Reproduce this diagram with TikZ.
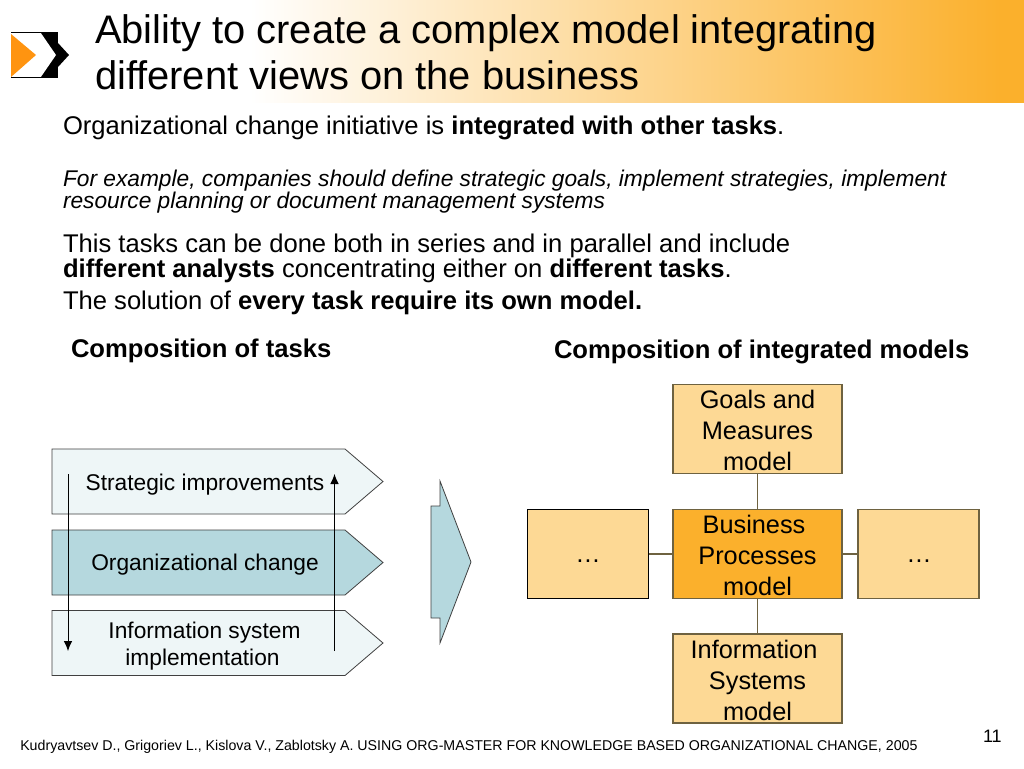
\documentclass[tikz,border=0pt]{standalone}
\usepackage{fontspec}
\setmainfont{Liberation Sans}
\usetikzlibrary{arrows.meta}
\definecolor{paleblue}{HTML}{EEF6F7}
\definecolor{tealfill}{HTML}{B5D8DE}
\definecolor{lightorange}{HTML}{FDD995}
\definecolor{midorange}{HTML}{FBB02C}
\definecolor{boxedge}{HTML}{6E6240}
\definecolor{iconorange}{HTML}{FF9410}
\tikzset{
  x=0.75pt,y=-0.75pt,
  txt/.style={anchor=base west,inner sep=0pt,outer sep=0pt,font=\fontsize{19.2}{23}\selectfont},
  ital/.style={anchor=base west,inner sep=0pt,outer sep=0pt,font=\fontsize{17.05}{20}\selectfont\itshape},
  titletxt/.style={anchor=base west,inner sep=0pt,outer sep=0pt,font=\fontsize{29.9}{36}\selectfont},
  subhead/.style={anchor=base west,inner sep=0pt,outer sep=0pt,font=\fontsize{19.2}{23}\selectfont\bfseries},
  tasktxt/.style={inner sep=0pt,outer sep=0pt,align=center,font=\fontsize{17.05}{20.2}\selectfont},
  modeltxt/.style={inner sep=0pt,outer sep=0pt,align=center,anchor=base,font=\fontsize{19}{23}\selectfont},
  modelbox/.style={draw=boxedge,line width=0.8pt,fill=lightorange,inner sep=0pt,minimum height=66.75pt},
  widebox/.style={modelbox,minimum width=126.75pt},
  sidebox/.style={modelbox,minimum width=90.75pt},
  chevron/.style={draw=black!75,line width=0.6pt},
  link/.style={draw=boxedge,line width=0.8pt},
  flow/.style={draw=black,line width=0.7pt,-{Latex[length=7.5pt,width=6.5pt]}},
}
\begin{document}
\begin{tikzpicture}
\useasboundingbox (0,0) rectangle (1024,768);
\fill[white] (0,0) rectangle (1024,768);
% title band
\begin{scope}
\clip (0,0) rectangle (1024,102);
\fill[midorange] (999,-5) rectangle (1024,110);
\shade[left color=white,right color=midorange] (250,-5) rectangle (1000,110);
\end{scope}
% icon
\fill[black] (11,32) rectangle (58,78);
\fill[black] (58,43) -- (69,55) -- (58,67) -- cycle;
\fill[white] (11,33.2) -- (41,33.2) -- (56,55) -- (41,76.8) -- (11,76.8) -- cycle;
\fill[iconorange] (11,34) -- (36,55) -- (11,77) -- cycle;
% title
\node[titletxt] (t1) at (95,43) {Ability to create a complex model integrating};
\node[titletxt] (t2) at (95,89) {different views on the business};
% body
\node[txt] (b1) at (63,134) {Organizational change initiative is \textbf{integrated with other tasks}.};
\node[ital] (b2) at (63,186) {For example, companies should define strategic goals, implement strategies, implement};
\node[ital] (b3) at (63,208) {resource planning or document management systems};
\node[txt] (b4) at (63,252) {This tasks can be done both in series and in parallel and include};
\node[txt] (b5) at (63,277) {\textbf{different analysts} concentrating either on \textbf{different tasks}.};
\node[txt] (b6) at (63,309) {The solution of \textbf{every task require its own model.}};
\node[subhead] (h1) at (71,357) {Composition of tasks};
\node[subhead] (h2) at (554,358) {Composition of integrated models};
% chevrons
\draw[chevron,fill=paleblue] (52,449) -- (345,449) -- (383,481.5) -- (345,514) -- (52,514) -- cycle;
\draw[chevron,fill=tealfill] (52,530) -- (345,530) -- (383,562.5) -- (345,595) -- (52,595) -- cycle;
\draw[chevron,fill=paleblue] (52,610.5) -- (345,610.5) -- (383,643) -- (345,675.5) -- (52,675.5) -- cycle;
\node[tasktxt] (s1) at (205,485) {Strategic improvements};
\node[tasktxt] (s2) at (205,565) {Organizational change};
\node[tasktxt] (s3) at (204.5,646) {Information system\\implementation\kern3pt\relax};
% flow arrows
\coordinate (d1) at (68,474);
\coordinate (d2) at (68,651);
\coordinate (u1) at (334.5,651);
\coordinate (u2) at (334.5,474);
\draw[flow] (d1) -- (d2);
\draw[flow] (u1) -- (u2);
% big arrow
\draw[chevron,fill=tealfill] (440,481) -- (471,562) -- (440,643) -- (440,618) -- (431,618) -- (431,506) -- (440,506) -- cycle;
% model boxes
\node[widebox] (goals) at (757.5,429) {};
\node[widebox,fill=midorange] (bp) at (757.5,554) {};
\node[widebox] (is) at (757.5,678.5) {};
\node[sidebox,draw=black] (left) at (588,554) {};
\node[sidebox] (right) at (918.5,554) {};
\draw[link] (goals) -- (bp);
\draw[link] (bp) -- (is);
\draw[link] (left) -- (bp);
\draw[link] (bp) -- (right);
\node[modeltxt] (g1) at (757.5,408.3) {Goals and};
\node[modeltxt] (g2) at (757.5,439.5) {Measures};
\node[modeltxt] (g3) at (757.5,470) {model};
\node[modeltxt] (p1) at (754,533.2) {Business};
\node[modeltxt] (p2) at (757.5,564) {Processes};
\node[modeltxt] (p3) at (757.5,595) {model};
\node[modeltxt] (i1) at (754,658) {Information};
\node[modeltxt] (i2) at (757.5,689) {Systems};
\node[modeltxt] (i3) at (757.5,720) {model};
\node[modeltxt] (l1) at (588,562) {…};
\node[modeltxt] (r1) at (919,562) {…};
% footer
\node[anchor=base west,inner sep=0pt,font=\fontsize{10.65}{13}\selectfont] (f) at (20,750) {Kudryavtsev D., Grigoriev L., Kislova V., Zablotsky A. USING ORG-MASTER FOR KNOWLEDGE BASED ORGANIZATIONAL CHANGE, 2005};
\node[anchor=base east,inner sep=0pt,font=\fontsize{13.5}{16}\selectfont] (n) at (1002,742) {11};
\end{tikzpicture}
\end{document}
